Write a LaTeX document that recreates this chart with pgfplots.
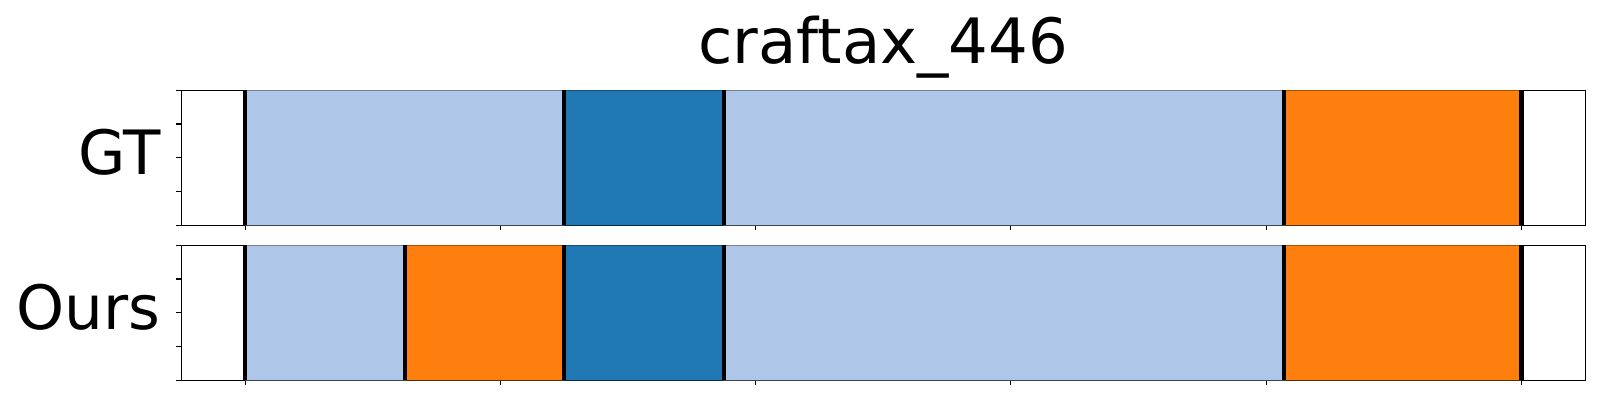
\documentclass[border=0pt]{standalone}
\usepackage{fontspec}
\setmainfont{DejaVu Sans}
\usepackage{pgfplots}
\pgfplotsset{compat=1.18}
\definecolor{lb}{HTML}{AEC7E8}
\definecolor{db}{HTML}{1F77B4}
\definecolor{or}{HTML}{FF7F0E}
\pgfplotsset{
  seg/.style={
    scale only axis, width=1010.9pt, height=97.2pt,
    xmin=-12.5, xmax=262.5, ymin=0, ymax=1,
    xtick={0,50,100,150,200,250}, xticklabels={},
    ytick={0,0.25,0.5,0.75,1}, yticklabels={},
    xtick pos=left, ytick pos=left,
    tick align=outside, major tick length=3.6pt,
    every tick/.style={black, line width=0.8pt},
    axis line style={black, line width=0.8pt},
    every axis y label/.style={at={(rel axis cs:0,0.3726)}, anchor=base east, inner sep=0pt, xshift=-14.6pt},
    ylabel style={font=\fontsize{44}{53}\selectfont},
    clip=true,
  },
}
\begin{document}
\begin{tikzpicture}
\path[use as bounding box] (0,0) rectangle (1152pt,288pt);
\node[anchor=base, font=\fontsize{45}{54}\selectfont] at (636pt,242.4pt) {craftax\_446};
% GT
\begin{axis}[seg, at={(130.5pt,125.8pt)}, anchor=south west, ylabel={GT}]
\addplot[const plot, fill=lb, draw=none] coordinates {(0,1) (62.5,1)} \closedcycle;
\addplot[const plot, fill=db, draw=none] coordinates {(62.5,1) (93.75,1)} \closedcycle;
\addplot[const plot, fill=lb, draw=none] coordinates {(93.75,1) (203.5,1)} \closedcycle;
\addplot[const plot, fill=or, draw=none] coordinates {(203.5,1) (250,1)} \closedcycle;
\addplot[black, line width=3.1pt] coordinates {(0,0) (0,1)};
\addplot[black, line width=3.1pt] coordinates {(62.5,0) (62.5,1)};
\addplot[black, line width=3.1pt] coordinates {(93.75,0) (93.75,1)};
\addplot[black, line width=3.1pt] coordinates {(203.5,0) (203.5,1)};
\addplot[black, line width=3.1pt] coordinates {(250,0) (250,1)};
\end{axis}
% Ours
\begin{axis}[seg, at={(130.5pt,14.2pt)}, anchor=south west, ylabel={Ours}]
\addplot[const plot, fill=lb, draw=none] coordinates {(0,1) (31.3,1)} \closedcycle;
\addplot[const plot, fill=or, draw=none] coordinates {(31.3,1) (62.5,1)} \closedcycle;
\addplot[const plot, fill=db, draw=none] coordinates {(62.5,1) (93.75,1)} \closedcycle;
\addplot[const plot, fill=lb, draw=none] coordinates {(93.75,1) (203.5,1)} \closedcycle;
\addplot[const plot, fill=or, draw=none] coordinates {(203.5,1) (250,1)} \closedcycle;
\addplot[black, line width=3.1pt] coordinates {(0,0) (0,1)};
\addplot[black, line width=3.1pt] coordinates {(31.3,0) (31.3,1)};
\addplot[black, line width=3.1pt] coordinates {(62.5,0) (62.5,1)};
\addplot[black, line width=3.1pt] coordinates {(93.75,0) (93.75,1)};
\addplot[black, line width=3.1pt] coordinates {(203.5,0) (203.5,1)};
\addplot[black, line width=3.1pt] coordinates {(250,0) (250,1)};
\end{axis}
\end{tikzpicture}
\end{document}
